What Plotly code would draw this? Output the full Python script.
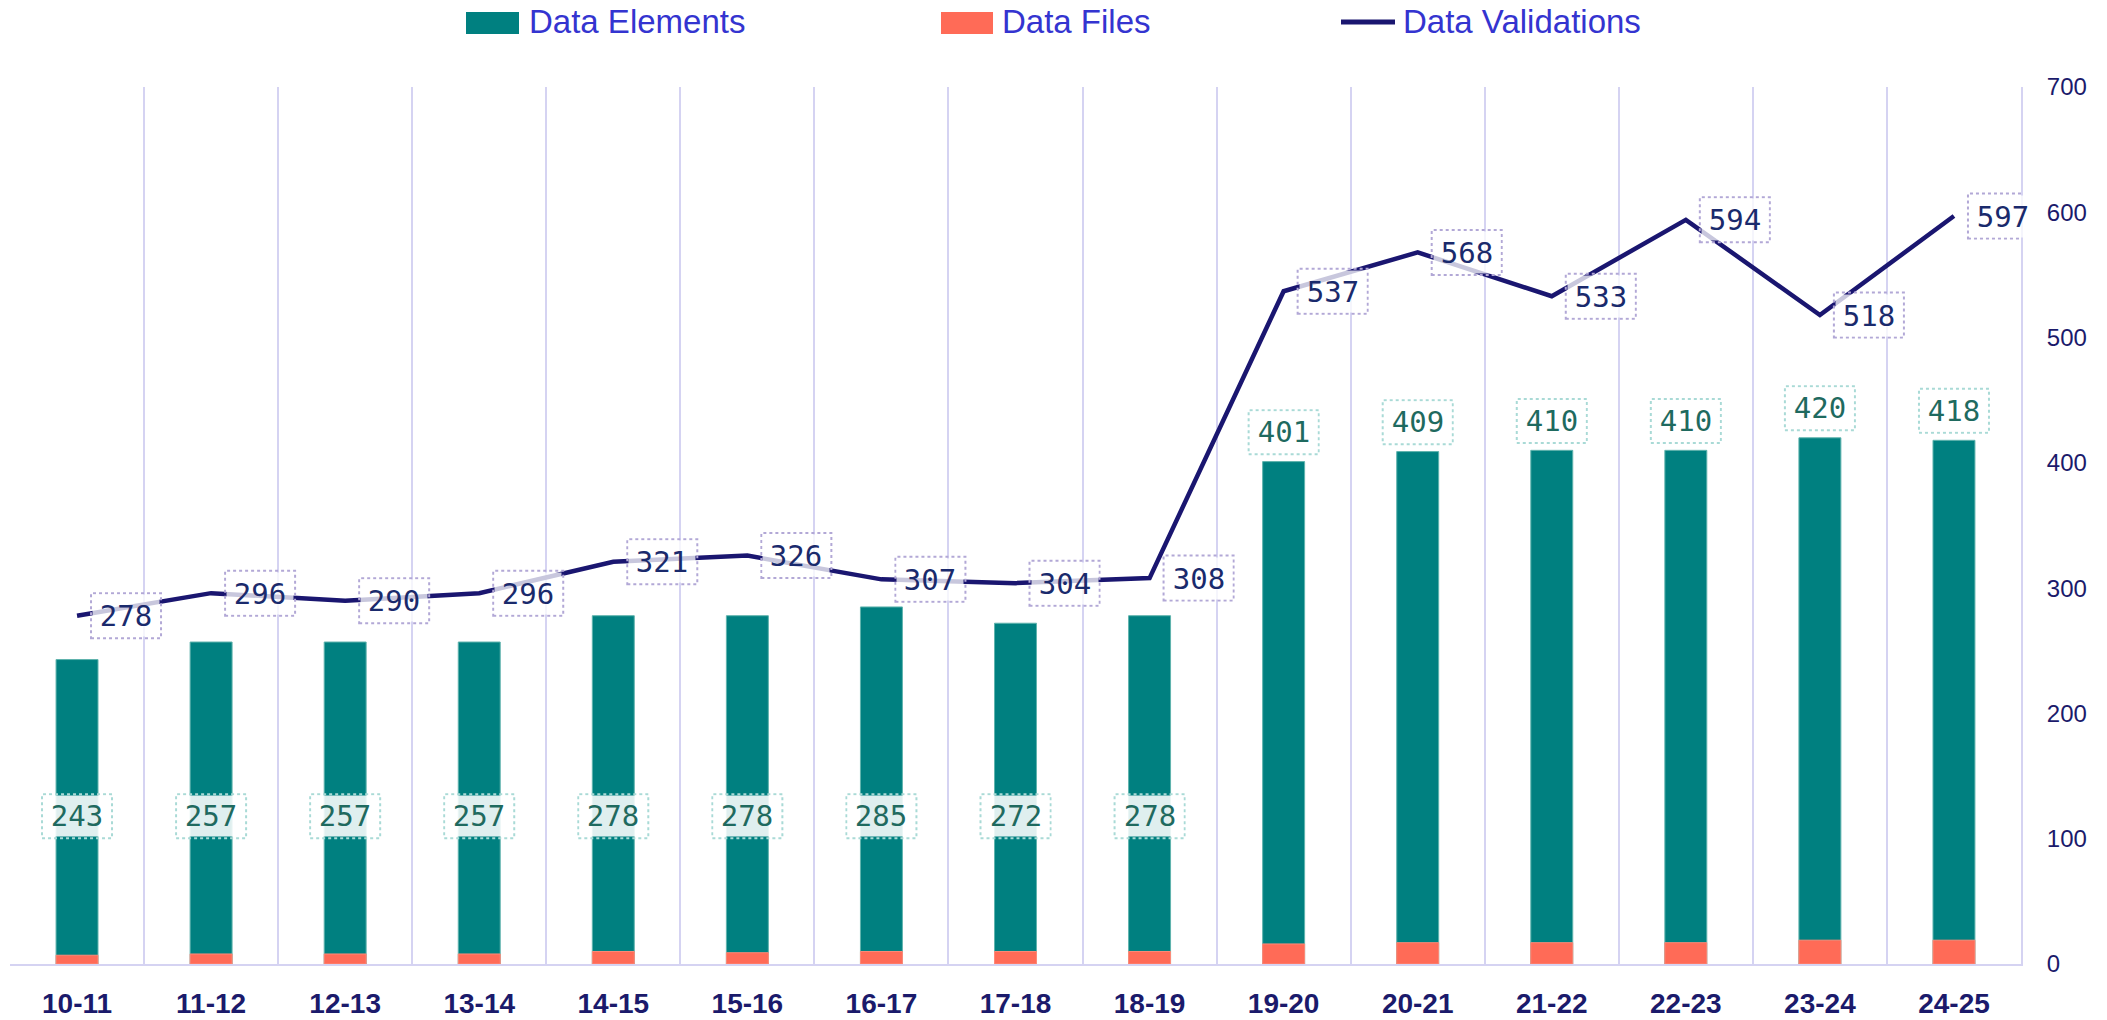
import plotly.graph_objects as go

# ---------------- data ----------------
categories = ["10-11", "11-12", "12-13", "13-14", "14-15", "15-16", "16-17", "17-18",
              "18-19", "19-20", "20-21", "21-22", "22-23", "23-24", "24-25"]
data_elements = [243, 257, 257, 257, 278, 278, 285, 272, 278, 401, 409, 410, 410, 420, 418]
data_files = [7, 8, 8, 8, 10, 9, 10, 10, 10, 16, 17, 17, 17, 19, 19]
data_validations = [278, 296, 290, 296, 321, 326, 307, 304, 308, 537, 568, 533, 594, 518, 597]
y_ticks = [0, 100, 200, 300, 400, 500, 600, 700]

# ---------------- styling ----------------
W, H = 2107, 1020
ML, MR, MT, MB = 10, 86, 87, 56
TEAL = "#008080"
CORAL = "#ff6b57"
NAVY = "#1a1670"
GRID = "#d5d3f2"
LEGEND_TXT = "#3434d0"
TICK_TXT = "#1b1a6b"
MONO = "DejaVu Sans Mono"
SANS = "Liberation Sans, Arial, sans-serif"


def px_x(px):
    return (px - ML) / (W - ML - MR)


def px_y(py):
    return (H - MB - py) / (H - MT - MB)


fig = go.Figure()
fig.add_trace(go.Bar(
    x=categories, y=data_elements, name="Data Elements", width=0.313,
    marker=dict(color=TEAL, line=dict(color="#5fb3ad", width=1)), showlegend=False))
fig.add_trace(go.Bar(
    x=categories, y=data_files, name="Data Files", width=0.313,
    marker=dict(color=CORAL, line=dict(color="#ff8a78", width=1)), showlegend=False))
fig.add_trace(go.Scatter(
    x=categories, y=data_validations, name="Data Validations", mode="lines",
    line=dict(color=NAVY, width=4.5), showlegend=False))

annotations = []
shapes = []

# line labels (right of each point)
LBL_W, LBL_H, LINE_DX = 70, 45, 49
LBL_FONT = 29
for c, v in zip(categories, data_validations):
    annotations.append(dict(
        x=c, y=v, xref="x", yref="y", text=str(v), showarrow=False,
        xshift=LINE_DX, width=LBL_W - 4, height=LBL_H - 4, borderpad=0,
        bgcolor="rgba(255,255,255,0.76)", align="center", valign="middle",
        font=dict(family=MONO, size=LBL_FONT, color="#1a2a6c")))
    shapes.append(dict(
        type="rect", xref="x", yref="y", xsizemode="pixel", ysizemode="pixel",
        xanchor=c, yanchor=v, x0=LINE_DX - LBL_W / 2, x1=LINE_DX + LBL_W / 2,
        y0=-LBL_H / 2, y1=LBL_H / 2, layer="above",
        line=dict(color="#b2a8d6", width=2, dash="dot"), fillcolor="rgba(0,0,0,0)"))

# bar labels
INSIDE_Y = 118
ABOVE_GAP = 23.5
for c, v in zip(categories, data_elements):
    ly = INSIDE_Y if v < 300 else v + ABOVE_GAP
    annotations.append(dict(
        x=c, y=ly, xref="x", yref="y", text=str(v), showarrow=False,
        width=LBL_W - 4, height=LBL_H - 5, borderpad=0,
        bgcolor="rgba(255,255,255,0.875)", align="center", valign="middle",
        font=dict(family=MONO, size=LBL_FONT, color="#1f6a5f")))
    shapes.append(dict(
        type="rect", xref="x", yref="y", xsizemode="pixel", ysizemode="pixel",
        xanchor=c, yanchor=ly, x0=-LBL_W / 2, x1=LBL_W / 2,
        y0=-(LBL_H - 1) / 2, y1=(LBL_H - 1) / 2, layer="above",
        line=dict(color="#a9dad6", width=2, dash="dot"), fillcolor="rgba(0,0,0,0)"))

# custom legend
legend_items = [
    ("Data Elements", "rect", TEAL, 466, 519, 527),
    ("Data Files", "rect", CORAL, 941, 993, 1000),
    ("Data Validations", "line", NAVY, 1341, 1395, 1401),
]
for name, kind, color, x0, x1, tx in legend_items:
    if kind == "rect":
        shapes.append(dict(type="rect", xref="paper", yref="paper",
                           x0=px_x(x0), x1=px_x(x1), y0=px_y(34), y1=px_y(12),
                           fillcolor=color, line=dict(width=0), layer="above"))
    else:
        shapes.append(dict(type="line", xref="paper", yref="paper",
                           x0=px_x(x0), x1=px_x(x1), y0=px_y(22), y1=px_y(22),
                           line=dict(color=color, width=5), layer="above"))
    annotations.append(dict(
        x=px_x(tx), y=px_y(21), xref="paper", yref="paper", text=name,
        showarrow=False, xanchor="left", yanchor="middle",
        font=dict(family=SANS, size=33, color=LEGEND_TXT)))

fig.update_layout(
    width=W, height=H,
    margin=dict(l=ML, r=MR, t=MT, b=MB),
    barmode="overlay",
    plot_bgcolor="white", paper_bgcolor="white",
    showlegend=False,
    annotations=annotations,
    shapes=shapes,
    xaxis=dict(
        type="category", range=[-0.5, len(categories) - 0.5], automargin=False,
        tickson="boundaries", showgrid=True, gridcolor=GRID, gridwidth=2,
        showline=True, linecolor=GRID, linewidth=2, ticks="",
        ticklabelstandoff=13,
        tickfont=dict(family=SANS, size=28, color=TICK_TXT, weight="bold"),
        zeroline=False),
    yaxis=dict(
        side="right", range=[0, 700], tickvals=y_ticks, automargin=False,
        showgrid=False, zeroline=False, showline=True, linecolor=GRID, linewidth=2,
        ticks="", ticklabelstandoff=19,
        tickfont=dict(family=SANS, size=24, color=TICK_TXT)),
)

fig.write_html("out.html", config={"displayModeBar": False},
               post_script="document.body.style.margin='0px';document.body.style.overflow='hidden';")
